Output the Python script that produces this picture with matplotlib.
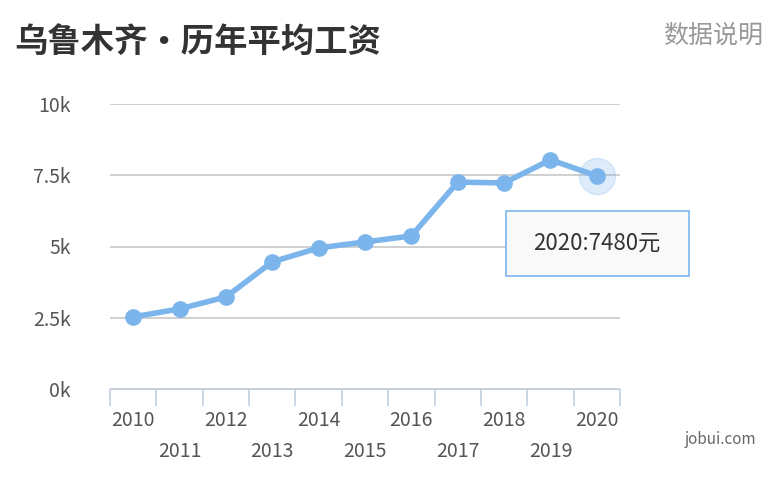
import matplotlib
matplotlib.use("Agg")
import matplotlib.pyplot as plt
from matplotlib.patches import FancyBboxPatch

plt.rcParams['font.family'] = ['Noto Sans CJK SC', 'DejaVu Sans']

years = ['2010','2011','2012','2013','2014','2015','2016','2017','2018','2019','2020']
wages = [2530, 2810, 3230, 4460, 4950, 5160, 5370, 7260, 7230, 8040, 7480]
yticks = [0, 2500, 5000, 7500, 10000]
ylabels = ['0k', '2.5k', '5k', '7.5k', '10k']

fig = plt.figure(figsize=(7.77, 4.79), dpi=100)
ax = fig.add_axes([110/777, 1-389/479, 510/777, 285/479])
x = list(range(len(years)))
c = '#7cb5ec'
ax.plot(x, wages, color=c, lw=4, marker='o', ms=11, zorder=3)
ax.plot([x[-1]], [wages[-1]], 'o', ms=26, color=c, alpha=0.25, zorder=2)
ax.set_xlim(-0.5, len(years)-0.5)
ax.set_ylim(0, 10000)
ax.set_yticks(yticks)
ax.set_yticklabels(ylabels, fontsize=14, color='#555555')
ax.yaxis.grid(True, color='#c8c8c8', lw=1.2)
for s in ['top', 'right', 'left']:
    ax.spines[s].set_visible(False)
ax.spines['bottom'].set_color('#c0d0e0')
ax.tick_params(axis='y', length=0, pad=28)
ax.set_xticks([i - 0.5 for i in range(len(years)+1)], minor=False)
ax.set_xticklabels([])
ax.tick_params(axis='x', length=12, color='#c0d0e0', width=1.2)
for i, yv in enumerate(years):
    ax.text(i, -0.11 if i % 2 == 0 else -0.22, yv, transform=ax.get_xaxis_transform(),
            ha='center', va='center', fontsize=14, color='#555555')
ax.set_axisbelow(True)

fig.text(14/777, 1-42/479, '乌鲁木齐•历年平均工资', fontsize=24, fontweight='bold', color='#333333', va='center')
fig.text(763/777, 1-36/479, '数据说明', fontsize=18, color='#999999', ha='right', va='center')
fig.text(756/777, 1-440/479, 'jobui.com', fontsize=11, color='#666666', ha='right', va='center')

box = FancyBboxPatch((506/777, 1-276/479), 183/777, 65/479, boxstyle='square,pad=0',
                     transform=fig.transFigure, fc='#f9f9f9', ec='#7cb5ec', lw=1.2, zorder=5)
fig.patches.append(box)
fig.text(597/777, 1-243/479, '2020:7480元', fontsize=16, color='#333333', ha='center', va='center', zorder=6)

fig.savefig('out.png', dpi=100)
